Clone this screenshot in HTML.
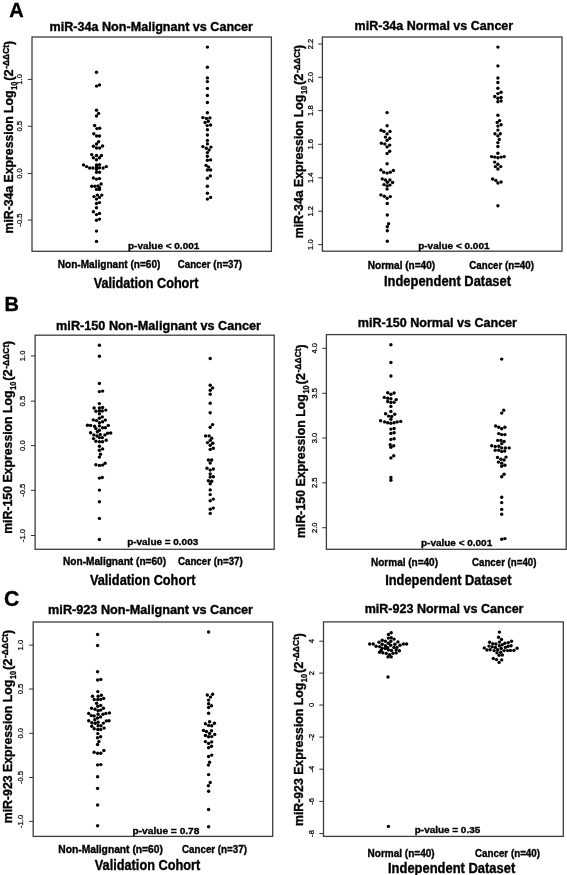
<!DOCTYPE html><html><head><meta charset="utf-8"><style>html,body{margin:0;padding:0;background:#fff;width:567px;height:875px;overflow:hidden}svg{display:block;will-change:transform}text{font-family:"Liberation Sans",sans-serif;fill:#000}text[font-weight=bold]{stroke:#000;stroke-width:0.35px}</style></head><body>
<svg width="567" height="875" viewBox="0 0 567 875">
<text x="9.3" y="16.9" font-size="20" font-weight="bold" stroke="#000" stroke-width="0.6">A</text>
<text x="4.6" y="310.8" font-size="20" font-weight="bold" stroke="#000" stroke-width="0.6">B</text>
<text x="3.9" y="605.6" font-size="21.2" font-weight="bold" stroke="#000" stroke-width="0.6">C</text>
<rect x="32.0" y="37.0" width="239.4" height="214.3" fill="none" stroke="#3c3c3c" stroke-width="1.3"/>
<line x1="27.8" y1="79.4" x2="32.0" y2="79.4" stroke="#333" stroke-width="1.0"/>
<text transform="translate(22.2,79.4) rotate(-90)" font-size="7.6" text-anchor="middle" stroke="#000" stroke-width="0.25">1.0</text>
<line x1="27.8" y1="126.3" x2="32.0" y2="126.3" stroke="#333" stroke-width="1.0"/>
<text transform="translate(22.2,126.3) rotate(-90)" font-size="7.6" text-anchor="middle" stroke="#000" stroke-width="0.25">0.5</text>
<line x1="27.8" y1="173.5" x2="32.0" y2="173.5" stroke="#333" stroke-width="1.0"/>
<text transform="translate(22.2,173.5) rotate(-90)" font-size="7.6" text-anchor="middle" stroke="#000" stroke-width="0.25">0.0</text>
<line x1="27.8" y1="220.1" x2="32.0" y2="220.1" stroke="#333" stroke-width="1.0"/>
<text transform="translate(22.2,220.1) rotate(-90)" font-size="7.6" text-anchor="middle" stroke="#000" stroke-width="0.25">-0.5</text>
<text x="49.6" y="30.5" font-size="12" font-weight="bold" textLength="203.4" lengthAdjust="spacingAndGlyphs">miR-34a Non-Malignant vs Cancer</text>
<text x="57.8" y="268.1" font-size="10" font-weight="bold" textLength="102.6" lengthAdjust="spacingAndGlyphs">Non-Malignant (n=60)</text>
<text x="177.8" y="268.1" font-size="10" font-weight="bold" textLength="64.2" lengthAdjust="spacingAndGlyphs">Cancer (n=37)</text>
<text x="93.7" y="287.9" font-size="13.9" font-weight="bold" textLength="104.8" lengthAdjust="spacingAndGlyphs">Validation Cohort</text>
<text x="128.0" y="249.4" font-size="9.6" font-weight="bold" textLength="71.3" lengthAdjust="spacingAndGlyphs">p-value &lt; 0.001</text>
<text transform="translate(12.80,233.50) rotate(-90)" font-size="12.6" font-weight="bold" textLength="143.05" lengthAdjust="spacingAndGlyphs">miR-34a Expression Log</text>
<text transform="translate(16.70,89.85) rotate(-90)" font-size="8.4" font-weight="bold" textLength="8.09" lengthAdjust="spacingAndGlyphs">10</text>
<text transform="translate(12.80,80.76) rotate(-90)" font-size="12.6" font-weight="bold" textLength="11.39" lengthAdjust="spacingAndGlyphs">(2</text>
<text transform="translate(9.10,68.87) rotate(-90)" font-size="9.8" font-weight="bold" textLength="24.07" lengthAdjust="spacingAndGlyphs">-ΔΔCt</text>
<text transform="translate(12.80,45.00) rotate(-90)" font-size="12.6" font-weight="bold" textLength="4.00" lengthAdjust="spacingAndGlyphs">)</text>
<circle cx="96.5" cy="72.3" r="1.7"/>
<circle cx="96.5" cy="86.1" r="1.7"/>
<circle cx="99.5" cy="84.9" r="1.7"/>
<circle cx="96.5" cy="110.3" r="1.7"/>
<circle cx="98.6" cy="113.4" r="1.7"/>
<circle cx="96.5" cy="116.0" r="1.7"/>
<circle cx="94.6" cy="125.5" r="1.7"/>
<circle cx="96.9" cy="128.6" r="1.7"/>
<circle cx="99.7" cy="128.2" r="1.7"/>
<circle cx="93.8" cy="133.7" r="1.7"/>
<circle cx="96.6" cy="136.0" r="1.7"/>
<circle cx="99.5" cy="136.0" r="1.7"/>
<circle cx="98.6" cy="141.7" r="1.7"/>
<circle cx="96.5" cy="144.0" r="1.7"/>
<circle cx="93.4" cy="146.3" r="1.7"/>
<circle cx="96.5" cy="148.0" r="1.7"/>
<circle cx="99.7" cy="148.0" r="1.7"/>
<circle cx="102.6" cy="146.0" r="1.7"/>
<circle cx="91.7" cy="154.6" r="1.7"/>
<circle cx="96.5" cy="155.5" r="1.7"/>
<circle cx="101.4" cy="155.5" r="1.7"/>
<circle cx="93.4" cy="157.8" r="1.7"/>
<circle cx="99.5" cy="157.8" r="1.7"/>
<circle cx="96.5" cy="159.7" r="1.7"/>
<circle cx="83.5" cy="164.9" r="1.7"/>
<circle cx="86.6" cy="166.6" r="1.7"/>
<circle cx="89.7" cy="168.0" r="1.7"/>
<circle cx="92.9" cy="168.0" r="1.7"/>
<circle cx="96.5" cy="164.9" r="1.7"/>
<circle cx="99.5" cy="164.6" r="1.7"/>
<circle cx="96.5" cy="167.1" r="1.7"/>
<circle cx="99.5" cy="167.7" r="1.7"/>
<circle cx="103.1" cy="168.0" r="1.7"/>
<circle cx="106.3" cy="166.6" r="1.7"/>
<circle cx="96.5" cy="169.2" r="1.7"/>
<circle cx="96.5" cy="172.3" r="1.7"/>
<circle cx="99.5" cy="172.3" r="1.7"/>
<circle cx="93.4" cy="178.0" r="1.7"/>
<circle cx="96.5" cy="179.1" r="1.7"/>
<circle cx="99.5" cy="178.6" r="1.7"/>
<circle cx="91.7" cy="186.3" r="1.7"/>
<circle cx="94.9" cy="186.3" r="1.7"/>
<circle cx="98.0" cy="186.0" r="1.7"/>
<circle cx="101.1" cy="184.0" r="1.7"/>
<circle cx="99.5" cy="187.7" r="1.7"/>
<circle cx="96.5" cy="189.4" r="1.7"/>
<circle cx="99.5" cy="189.4" r="1.7"/>
<circle cx="94.0" cy="196.6" r="1.7"/>
<circle cx="97.4" cy="195.1" r="1.7"/>
<circle cx="101.8" cy="195.1" r="1.7"/>
<circle cx="96.5" cy="199.1" r="1.7"/>
<circle cx="99.5" cy="197.4" r="1.7"/>
<circle cx="96.5" cy="203.5" r="1.7"/>
<circle cx="99.5" cy="202.6" r="1.7"/>
<circle cx="96.5" cy="207.7" r="1.7"/>
<circle cx="93.4" cy="211.7" r="1.7"/>
<circle cx="96.5" cy="214.6" r="1.7"/>
<circle cx="99.5" cy="213.4" r="1.7"/>
<circle cx="96.5" cy="220.3" r="1.7"/>
<circle cx="99.5" cy="219.1" r="1.7"/>
<circle cx="96.5" cy="231.1" r="1.7"/>
<circle cx="96.5" cy="241.4" r="1.7"/>
<circle cx="207.4" cy="47.1" r="1.7"/>
<circle cx="207.4" cy="67.3" r="1.7"/>
<circle cx="207.4" cy="77.9" r="1.7"/>
<circle cx="207.4" cy="81.6" r="1.7"/>
<circle cx="207.4" cy="88.4" r="1.7"/>
<circle cx="207.4" cy="95.5" r="1.7"/>
<circle cx="207.4" cy="102.5" r="1.7"/>
<circle cx="207.4" cy="112.7" r="1.7"/>
<circle cx="202.9" cy="117.6" r="1.7"/>
<circle cx="206.5" cy="118.4" r="1.7"/>
<circle cx="209.9" cy="117.9" r="1.7"/>
<circle cx="205.1" cy="122.5" r="1.7"/>
<circle cx="208.3" cy="121.3" r="1.7"/>
<circle cx="207.2" cy="125.6" r="1.7"/>
<circle cx="210.6" cy="125.0" r="1.7"/>
<circle cx="207.4" cy="129.8" r="1.7"/>
<circle cx="207.4" cy="135.0" r="1.7"/>
<circle cx="207.4" cy="140.5" r="1.7"/>
<circle cx="207.4" cy="143.9" r="1.7"/>
<circle cx="202.9" cy="146.6" r="1.7"/>
<circle cx="210.9" cy="147.1" r="1.7"/>
<circle cx="206.3" cy="148.3" r="1.7"/>
<circle cx="209.1" cy="150.0" r="1.7"/>
<circle cx="207.4" cy="152.6" r="1.7"/>
<circle cx="207.4" cy="156.3" r="1.7"/>
<circle cx="207.4" cy="160.3" r="1.7"/>
<circle cx="210.6" cy="159.9" r="1.7"/>
<circle cx="206.1" cy="165.4" r="1.7"/>
<circle cx="208.6" cy="167.1" r="1.7"/>
<circle cx="207.4" cy="170.0" r="1.7"/>
<circle cx="210.6" cy="170.0" r="1.7"/>
<circle cx="210.3" cy="175.9" r="1.7"/>
<circle cx="207.4" cy="178.2" r="1.7"/>
<circle cx="207.4" cy="186.3" r="1.7"/>
<circle cx="207.4" cy="193.2" r="1.7"/>
<circle cx="210.6" cy="197.4" r="1.7"/>
<circle cx="207.4" cy="199.1" r="1.7"/>
<rect x="322.4" y="37.0" width="239.6" height="214.2" fill="none" stroke="#3c3c3c" stroke-width="1.3"/>
<line x1="318.2" y1="44.0" x2="322.4" y2="44.0" stroke="#333" stroke-width="1.0"/>
<text transform="translate(312.6,44.0) rotate(-90)" font-size="7.6" text-anchor="middle" stroke="#000" stroke-width="0.25">2.2</text>
<line x1="318.2" y1="77.3" x2="322.4" y2="77.3" stroke="#333" stroke-width="1.0"/>
<text transform="translate(312.6,77.3) rotate(-90)" font-size="7.6" text-anchor="middle" stroke="#000" stroke-width="0.25">2.0</text>
<line x1="318.2" y1="110.6" x2="322.4" y2="110.6" stroke="#333" stroke-width="1.0"/>
<text transform="translate(312.6,110.6) rotate(-90)" font-size="7.6" text-anchor="middle" stroke="#000" stroke-width="0.25">1.8</text>
<line x1="318.2" y1="144.3" x2="322.4" y2="144.3" stroke="#333" stroke-width="1.0"/>
<text transform="translate(312.6,144.3) rotate(-90)" font-size="7.6" text-anchor="middle" stroke="#000" stroke-width="0.25">1.6</text>
<line x1="318.2" y1="177.8" x2="322.4" y2="177.8" stroke="#333" stroke-width="1.0"/>
<text transform="translate(312.6,177.8) rotate(-90)" font-size="7.6" text-anchor="middle" stroke="#000" stroke-width="0.25">1.4</text>
<line x1="318.2" y1="211.2" x2="322.4" y2="211.2" stroke="#333" stroke-width="1.0"/>
<text transform="translate(312.6,211.2) rotate(-90)" font-size="7.6" text-anchor="middle" stroke="#000" stroke-width="0.25">1.2</text>
<line x1="318.2" y1="244.6" x2="322.4" y2="244.6" stroke="#333" stroke-width="1.0"/>
<text transform="translate(312.6,244.6) rotate(-90)" font-size="7.6" text-anchor="middle" stroke="#000" stroke-width="0.25">1.0</text>
<text x="354.6" y="30.4" font-size="12" font-weight="bold" textLength="158.6" lengthAdjust="spacingAndGlyphs">miR-34a Normal vs Cancer</text>
<text x="367.8" y="269.1" font-size="10" font-weight="bold" textLength="67.3" lengthAdjust="spacingAndGlyphs">Normal (n=40)</text>
<text x="469.3" y="269.1" font-size="10" font-weight="bold" textLength="64.6" lengthAdjust="spacingAndGlyphs">Cancer (n=40)</text>
<text x="384.0" y="285.9" font-size="13.9" font-weight="bold" textLength="127.0" lengthAdjust="spacingAndGlyphs">Independent Dataset</text>
<text x="418.2" y="249.3" font-size="9.6" font-weight="bold" textLength="71.3" lengthAdjust="spacingAndGlyphs">p-value &lt; 0.001</text>
<text transform="translate(303.30,238.30) rotate(-90)" font-size="12.6" font-weight="bold" textLength="143.65" lengthAdjust="spacingAndGlyphs">miR-34a Expression Log</text>
<text transform="translate(307.20,94.05) rotate(-90)" font-size="8.4" font-weight="bold" textLength="8.13" lengthAdjust="spacingAndGlyphs">10</text>
<text transform="translate(303.30,84.92) rotate(-90)" font-size="12.6" font-weight="bold" textLength="11.44" lengthAdjust="spacingAndGlyphs">(2</text>
<text transform="translate(299.60,72.98) rotate(-90)" font-size="9.8" font-weight="bold" textLength="24.18" lengthAdjust="spacingAndGlyphs">-ΔΔCt</text>
<text transform="translate(303.30,49.01) rotate(-90)" font-size="12.6" font-weight="bold" textLength="4.01" lengthAdjust="spacingAndGlyphs">)</text>
<circle cx="387.1" cy="112.6" r="1.7"/>
<circle cx="387.1" cy="125.7" r="1.7"/>
<circle cx="381.1" cy="130.3" r="1.7"/>
<circle cx="384.0" cy="131.4" r="1.7"/>
<circle cx="390.0" cy="131.4" r="1.7"/>
<circle cx="387.1" cy="133.9" r="1.7"/>
<circle cx="385.4" cy="137.1" r="1.7"/>
<circle cx="389.7" cy="138.3" r="1.7"/>
<circle cx="387.1" cy="140.2" r="1.7"/>
<circle cx="381.4" cy="143.2" r="1.7"/>
<circle cx="384.8" cy="144.0" r="1.7"/>
<circle cx="389.7" cy="145.1" r="1.7"/>
<circle cx="387.1" cy="146.9" r="1.7"/>
<circle cx="389.7" cy="151.2" r="1.7"/>
<circle cx="387.1" cy="153.5" r="1.7"/>
<circle cx="387.1" cy="163.8" r="1.7"/>
<circle cx="380.9" cy="169.9" r="1.7"/>
<circle cx="383.7" cy="172.3" r="1.7"/>
<circle cx="387.1" cy="173.1" r="1.7"/>
<circle cx="390.3" cy="172.3" r="1.7"/>
<circle cx="393.4" cy="170.5" r="1.7"/>
<circle cx="382.3" cy="178.9" r="1.7"/>
<circle cx="385.4" cy="180.0" r="1.7"/>
<circle cx="389.9" cy="180.0" r="1.7"/>
<circle cx="387.4" cy="182.3" r="1.7"/>
<circle cx="392.6" cy="182.5" r="1.7"/>
<circle cx="384.0" cy="184.6" r="1.7"/>
<circle cx="389.9" cy="185.1" r="1.7"/>
<circle cx="387.1" cy="186.0" r="1.7"/>
<circle cx="387.1" cy="189.1" r="1.7"/>
<circle cx="380.9" cy="194.9" r="1.7"/>
<circle cx="384.3" cy="196.2" r="1.7"/>
<circle cx="390.3" cy="196.6" r="1.7"/>
<circle cx="387.1" cy="198.3" r="1.7"/>
<circle cx="387.3" cy="203.5" r="1.7"/>
<circle cx="387.3" cy="215.0" r="1.7"/>
<circle cx="388.6" cy="223.7" r="1.7"/>
<circle cx="387.3" cy="226.8" r="1.7"/>
<circle cx="387.3" cy="230.7" r="1.7"/>
<circle cx="387.3" cy="241.3" r="1.7"/>
<circle cx="497.9" cy="47.1" r="1.7"/>
<circle cx="497.9" cy="65.9" r="1.7"/>
<circle cx="497.9" cy="78.0" r="1.7"/>
<circle cx="497.9" cy="82.5" r="1.7"/>
<circle cx="497.9" cy="88.3" r="1.7"/>
<circle cx="497.9" cy="93.6" r="1.7"/>
<circle cx="501.1" cy="92.2" r="1.7"/>
<circle cx="494.7" cy="96.5" r="1.7"/>
<circle cx="497.9" cy="98.2" r="1.7"/>
<circle cx="501.1" cy="97.5" r="1.7"/>
<circle cx="497.9" cy="101.8" r="1.7"/>
<circle cx="501.1" cy="101.0" r="1.7"/>
<circle cx="497.9" cy="115.3" r="1.7"/>
<circle cx="499.6" cy="120.6" r="1.7"/>
<circle cx="497.2" cy="122.5" r="1.7"/>
<circle cx="501.1" cy="124.8" r="1.7"/>
<circle cx="497.9" cy="126.1" r="1.7"/>
<circle cx="497.9" cy="130.1" r="1.7"/>
<circle cx="495.0" cy="133.8" r="1.7"/>
<circle cx="500.3" cy="133.8" r="1.7"/>
<circle cx="497.9" cy="135.9" r="1.7"/>
<circle cx="499.3" cy="139.4" r="1.7"/>
<circle cx="497.9" cy="142.6" r="1.7"/>
<circle cx="497.9" cy="146.5" r="1.7"/>
<circle cx="497.9" cy="153.2" r="1.7"/>
<circle cx="491.6" cy="156.6" r="1.7"/>
<circle cx="494.7" cy="157.1" r="1.7"/>
<circle cx="497.9" cy="157.8" r="1.7"/>
<circle cx="501.1" cy="157.1" r="1.7"/>
<circle cx="504.2" cy="156.6" r="1.7"/>
<circle cx="494.7" cy="162.1" r="1.7"/>
<circle cx="497.9" cy="164.2" r="1.7"/>
<circle cx="495.4" cy="166.6" r="1.7"/>
<circle cx="500.7" cy="166.6" r="1.7"/>
<circle cx="497.9" cy="169.0" r="1.7"/>
<circle cx="492.6" cy="179.0" r="1.7"/>
<circle cx="495.8" cy="180.4" r="1.7"/>
<circle cx="501.1" cy="182.0" r="1.7"/>
<circle cx="497.9" cy="183.0" r="1.7"/>
<circle cx="497.9" cy="205.7" r="1.7"/>
<rect x="35.1" y="335.2" width="239.1" height="214.1" fill="none" stroke="#3c3c3c" stroke-width="1.3"/>
<line x1="30.9" y1="355.9" x2="35.1" y2="355.9" stroke="#333" stroke-width="1.0"/>
<text transform="translate(25.3,355.9) rotate(-90)" font-size="7.6" text-anchor="middle" stroke="#000" stroke-width="0.25">1.0</text>
<line x1="30.9" y1="401.1" x2="35.1" y2="401.1" stroke="#333" stroke-width="1.0"/>
<text transform="translate(25.3,401.1) rotate(-90)" font-size="7.6" text-anchor="middle" stroke="#000" stroke-width="0.25">0.5</text>
<line x1="30.9" y1="445.6" x2="35.1" y2="445.6" stroke="#333" stroke-width="1.0"/>
<text transform="translate(25.3,445.6) rotate(-90)" font-size="7.6" text-anchor="middle" stroke="#000" stroke-width="0.25">0.0</text>
<line x1="30.9" y1="490.3" x2="35.1" y2="490.3" stroke="#333" stroke-width="1.0"/>
<text transform="translate(25.3,490.3) rotate(-90)" font-size="7.6" text-anchor="middle" stroke="#000" stroke-width="0.25">-0.5</text>
<line x1="30.9" y1="535.5" x2="35.1" y2="535.5" stroke="#333" stroke-width="1.0"/>
<text transform="translate(25.3,535.5) rotate(-90)" font-size="7.6" text-anchor="middle" stroke="#000" stroke-width="0.25">-1.0</text>
<text x="56.1" y="329.9" font-size="12" font-weight="bold" textLength="204.9" lengthAdjust="spacingAndGlyphs">miR-150 Non-Malignant vs Cancer</text>
<text x="63.0" y="564.7" font-size="10" font-weight="bold" textLength="103.1" lengthAdjust="spacingAndGlyphs">Non-Malignant (n=60)</text>
<text x="177.9" y="564.7" font-size="10" font-weight="bold" textLength="64.9" lengthAdjust="spacingAndGlyphs">Cancer (n=37)</text>
<text x="89.9" y="585.0" font-size="13.9" font-weight="bold" textLength="105.5" lengthAdjust="spacingAndGlyphs">Validation Cohort</text>
<text x="127.2" y="545.2" font-size="9.6" font-weight="bold" textLength="71.0" lengthAdjust="spacingAndGlyphs">p-value = 0.003</text>
<text transform="translate(12.30,533.80) rotate(-90)" font-size="12.6" font-weight="bold" textLength="143.35" lengthAdjust="spacingAndGlyphs">miR-150 Expression Log</text>
<text transform="translate(16.20,389.85) rotate(-90)" font-size="8.4" font-weight="bold" textLength="8.11" lengthAdjust="spacingAndGlyphs">10</text>
<text transform="translate(12.30,380.74) rotate(-90)" font-size="12.6" font-weight="bold" textLength="11.41" lengthAdjust="spacingAndGlyphs">(2</text>
<text transform="translate(8.60,368.83) rotate(-90)" font-size="9.8" font-weight="bold" textLength="24.13" lengthAdjust="spacingAndGlyphs">-ΔΔCt</text>
<text transform="translate(12.30,344.90) rotate(-90)" font-size="12.6" font-weight="bold" textLength="4.00" lengthAdjust="spacingAndGlyphs">)</text>
<circle cx="99.4" cy="345.3" r="1.7"/>
<circle cx="99.4" cy="356.2" r="1.7"/>
<circle cx="99.4" cy="383.4" r="1.7"/>
<circle cx="99.4" cy="391.6" r="1.7"/>
<circle cx="102.6" cy="391.1" r="1.7"/>
<circle cx="99.4" cy="403.6" r="1.7"/>
<circle cx="94.1" cy="408.0" r="1.7"/>
<circle cx="99.4" cy="408.0" r="1.7"/>
<circle cx="102.6" cy="407.5" r="1.7"/>
<circle cx="95.9" cy="411.2" r="1.7"/>
<circle cx="99.4" cy="410.7" r="1.7"/>
<circle cx="102.3" cy="411.0" r="1.7"/>
<circle cx="105.8" cy="410.1" r="1.7"/>
<circle cx="99.4" cy="413.8" r="1.7"/>
<circle cx="102.3" cy="416.9" r="1.7"/>
<circle cx="99.4" cy="418.2" r="1.7"/>
<circle cx="93.3" cy="419.9" r="1.7"/>
<circle cx="96.5" cy="420.6" r="1.7"/>
<circle cx="102.6" cy="421.7" r="1.7"/>
<circle cx="105.4" cy="420.1" r="1.7"/>
<circle cx="99.4" cy="422.8" r="1.7"/>
<circle cx="87.5" cy="425.2" r="1.7"/>
<circle cx="90.6" cy="425.4" r="1.7"/>
<circle cx="94.6" cy="426.2" r="1.7"/>
<circle cx="99.4" cy="425.9" r="1.7"/>
<circle cx="102.6" cy="427.7" r="1.7"/>
<circle cx="105.4" cy="427.7" r="1.7"/>
<circle cx="108.3" cy="425.4" r="1.7"/>
<circle cx="95.9" cy="428.6" r="1.7"/>
<circle cx="99.4" cy="430.2" r="1.7"/>
<circle cx="97.3" cy="431.7" r="1.7"/>
<circle cx="90.6" cy="432.8" r="1.7"/>
<circle cx="93.8" cy="434.9" r="1.7"/>
<circle cx="100.2" cy="434.4" r="1.7"/>
<circle cx="104.9" cy="434.9" r="1.7"/>
<circle cx="107.6" cy="433.3" r="1.7"/>
<circle cx="110.7" cy="433.0" r="1.7"/>
<circle cx="97.0" cy="436.0" r="1.7"/>
<circle cx="99.4" cy="437.6" r="1.7"/>
<circle cx="102.3" cy="437.6" r="1.7"/>
<circle cx="93.5" cy="438.6" r="1.7"/>
<circle cx="95.9" cy="441.3" r="1.7"/>
<circle cx="99.4" cy="441.8" r="1.7"/>
<circle cx="102.6" cy="441.8" r="1.7"/>
<circle cx="106.2" cy="440.2" r="1.7"/>
<circle cx="99.4" cy="446.2" r="1.7"/>
<circle cx="102.6" cy="448.9" r="1.7"/>
<circle cx="99.4" cy="450.3" r="1.7"/>
<circle cx="100.5" cy="454.2" r="1.7"/>
<circle cx="99.4" cy="457.1" r="1.7"/>
<circle cx="95.9" cy="464.8" r="1.7"/>
<circle cx="99.4" cy="465.4" r="1.7"/>
<circle cx="102.6" cy="465.1" r="1.7"/>
<circle cx="105.1" cy="463.2" r="1.7"/>
<circle cx="99.4" cy="478.1" r="1.7"/>
<circle cx="102.3" cy="477.5" r="1.7"/>
<circle cx="99.4" cy="490.1" r="1.7"/>
<circle cx="99.4" cy="501.7" r="1.7"/>
<circle cx="99.4" cy="518.4" r="1.7"/>
<circle cx="99.4" cy="539.5" r="1.7"/>
<circle cx="210.2" cy="358.5" r="1.7"/>
<circle cx="210.2" cy="385.3" r="1.7"/>
<circle cx="212.6" cy="387.9" r="1.7"/>
<circle cx="210.2" cy="390.2" r="1.7"/>
<circle cx="210.2" cy="394.3" r="1.7"/>
<circle cx="210.2" cy="403.3" r="1.7"/>
<circle cx="210.2" cy="412.8" r="1.7"/>
<circle cx="212.6" cy="424.6" r="1.7"/>
<circle cx="210.2" cy="427.2" r="1.7"/>
<circle cx="205.6" cy="435.9" r="1.7"/>
<circle cx="209.1" cy="435.9" r="1.7"/>
<circle cx="211.7" cy="438.3" r="1.7"/>
<circle cx="210.2" cy="440.4" r="1.7"/>
<circle cx="207.5" cy="442.6" r="1.7"/>
<circle cx="212.8" cy="443.3" r="1.7"/>
<circle cx="210.2" cy="445.2" r="1.7"/>
<circle cx="213.3" cy="448.2" r="1.7"/>
<circle cx="210.2" cy="449.4" r="1.7"/>
<circle cx="208.4" cy="460.0" r="1.7"/>
<circle cx="211.7" cy="460.0" r="1.7"/>
<circle cx="210.2" cy="463.0" r="1.7"/>
<circle cx="207.0" cy="468.3" r="1.7"/>
<circle cx="210.2" cy="470.1" r="1.7"/>
<circle cx="213.3" cy="469.0" r="1.7"/>
<circle cx="210.2" cy="474.0" r="1.7"/>
<circle cx="210.2" cy="477.0" r="1.7"/>
<circle cx="213.3" cy="476.7" r="1.7"/>
<circle cx="208.4" cy="480.7" r="1.7"/>
<circle cx="211.7" cy="481.2" r="1.7"/>
<circle cx="210.2" cy="483.8" r="1.7"/>
<circle cx="210.2" cy="489.9" r="1.7"/>
<circle cx="210.2" cy="494.6" r="1.7"/>
<circle cx="213.3" cy="499.1" r="1.7"/>
<circle cx="210.2" cy="500.7" r="1.7"/>
<circle cx="213.3" cy="508.1" r="1.7"/>
<circle cx="210.2" cy="509.2" r="1.7"/>
<circle cx="210.2" cy="513.4" r="1.7"/>
<rect x="326.4" y="334.6" width="239.8" height="214.7" fill="none" stroke="#3c3c3c" stroke-width="1.3"/>
<line x1="322.2" y1="348.3" x2="326.4" y2="348.3" stroke="#333" stroke-width="1.0"/>
<text transform="translate(316.6,348.3) rotate(-90)" font-size="7.6" text-anchor="middle" stroke="#000" stroke-width="0.25">4.0</text>
<line x1="322.2" y1="393.3" x2="326.4" y2="393.3" stroke="#333" stroke-width="1.0"/>
<text transform="translate(316.6,393.3) rotate(-90)" font-size="7.6" text-anchor="middle" stroke="#000" stroke-width="0.25">3.5</text>
<line x1="322.2" y1="438.0" x2="326.4" y2="438.0" stroke="#333" stroke-width="1.0"/>
<text transform="translate(316.6,438.0) rotate(-90)" font-size="7.6" text-anchor="middle" stroke="#000" stroke-width="0.25">3.0</text>
<line x1="322.2" y1="482.8" x2="326.4" y2="482.8" stroke="#333" stroke-width="1.0"/>
<text transform="translate(316.6,482.8) rotate(-90)" font-size="7.6" text-anchor="middle" stroke="#000" stroke-width="0.25">2.5</text>
<line x1="322.2" y1="527.7" x2="326.4" y2="527.7" stroke="#333" stroke-width="1.0"/>
<text transform="translate(316.6,527.7) rotate(-90)" font-size="7.6" text-anchor="middle" stroke="#000" stroke-width="0.25">2.0</text>
<text x="357.8" y="326.7" font-size="12" font-weight="bold" textLength="159.2" lengthAdjust="spacingAndGlyphs">miR-150 Normal vs Cancer</text>
<text x="371.0" y="565.8" font-size="10" font-weight="bold" textLength="67.0" lengthAdjust="spacingAndGlyphs">Normal (n=40)</text>
<text x="472.0" y="565.8" font-size="10" font-weight="bold" textLength="64.5" lengthAdjust="spacingAndGlyphs">Cancer (n=40)</text>
<text x="385.2" y="585.1" font-size="13.9" font-weight="bold" textLength="126.3" lengthAdjust="spacingAndGlyphs">Independent Dataset</text>
<text x="421.0" y="546.0" font-size="9.6" font-weight="bold" textLength="71.2" lengthAdjust="spacingAndGlyphs">p-value &lt; 0.001</text>
<text transform="translate(304.60,537.90) rotate(-90)" font-size="12.6" font-weight="bold" textLength="143.72" lengthAdjust="spacingAndGlyphs">miR-150 Expression Log</text>
<text transform="translate(308.50,393.58) rotate(-90)" font-size="8.4" font-weight="bold" textLength="8.13" lengthAdjust="spacingAndGlyphs">10</text>
<text transform="translate(304.60,384.44) rotate(-90)" font-size="12.6" font-weight="bold" textLength="11.44" lengthAdjust="spacingAndGlyphs">(2</text>
<text transform="translate(300.90,372.50) rotate(-90)" font-size="9.8" font-weight="bold" textLength="24.19" lengthAdjust="spacingAndGlyphs">-ΔΔCt</text>
<text transform="translate(304.60,348.51) rotate(-90)" font-size="12.6" font-weight="bold" textLength="4.01" lengthAdjust="spacingAndGlyphs">)</text>
<circle cx="390.9" cy="344.7" r="1.7"/>
<circle cx="390.9" cy="362.5" r="1.7"/>
<circle cx="390.9" cy="376.0" r="1.7"/>
<circle cx="387.7" cy="392.7" r="1.7"/>
<circle cx="390.9" cy="394.3" r="1.7"/>
<circle cx="394.1" cy="393.0" r="1.7"/>
<circle cx="384.3" cy="397.4" r="1.7"/>
<circle cx="387.7" cy="398.3" r="1.7"/>
<circle cx="390.9" cy="398.7" r="1.7"/>
<circle cx="396.2" cy="399.6" r="1.7"/>
<circle cx="387.7" cy="401.5" r="1.7"/>
<circle cx="390.9" cy="402.5" r="1.7"/>
<circle cx="394.1" cy="402.2" r="1.7"/>
<circle cx="390.9" cy="406.4" r="1.7"/>
<circle cx="390.9" cy="411.4" r="1.7"/>
<circle cx="385.6" cy="413.8" r="1.7"/>
<circle cx="394.7" cy="414.2" r="1.7"/>
<circle cx="388.6" cy="416.1" r="1.7"/>
<circle cx="391.7" cy="416.4" r="1.7"/>
<circle cx="390.9" cy="419.3" r="1.7"/>
<circle cx="380.6" cy="420.7" r="1.7"/>
<circle cx="384.6" cy="421.9" r="1.7"/>
<circle cx="387.7" cy="422.8" r="1.7"/>
<circle cx="390.9" cy="423.2" r="1.7"/>
<circle cx="394.1" cy="422.8" r="1.7"/>
<circle cx="397.2" cy="421.9" r="1.7"/>
<circle cx="400.7" cy="421.4" r="1.7"/>
<circle cx="390.9" cy="429.1" r="1.7"/>
<circle cx="394.1" cy="428.5" r="1.7"/>
<circle cx="390.9" cy="433.4" r="1.7"/>
<circle cx="394.1" cy="432.7" r="1.7"/>
<circle cx="390.9" cy="439.4" r="1.7"/>
<circle cx="394.1" cy="438.7" r="1.7"/>
<circle cx="390.2" cy="444.7" r="1.7"/>
<circle cx="393.7" cy="445.7" r="1.7"/>
<circle cx="390.9" cy="447.3" r="1.7"/>
<circle cx="390.9" cy="457.9" r="1.7"/>
<circle cx="393.7" cy="455.8" r="1.7"/>
<circle cx="390.9" cy="477.5" r="1.7"/>
<circle cx="390.9" cy="480.3" r="1.7"/>
<circle cx="501.7" cy="359.1" r="1.7"/>
<circle cx="503.7" cy="410.3" r="1.7"/>
<circle cx="501.7" cy="413.1" r="1.7"/>
<circle cx="495.6" cy="426.0" r="1.7"/>
<circle cx="498.8" cy="427.2" r="1.7"/>
<circle cx="501.7" cy="428.8" r="1.7"/>
<circle cx="504.9" cy="427.2" r="1.7"/>
<circle cx="498.8" cy="433.6" r="1.7"/>
<circle cx="501.7" cy="434.6" r="1.7"/>
<circle cx="504.9" cy="434.6" r="1.7"/>
<circle cx="497.7" cy="440.4" r="1.7"/>
<circle cx="500.9" cy="440.4" r="1.7"/>
<circle cx="504.1" cy="441.5" r="1.7"/>
<circle cx="501.7" cy="443.6" r="1.7"/>
<circle cx="491.7" cy="445.7" r="1.7"/>
<circle cx="495.2" cy="446.5" r="1.7"/>
<circle cx="498.8" cy="446.3" r="1.7"/>
<circle cx="501.7" cy="447.9" r="1.7"/>
<circle cx="505.4" cy="447.9" r="1.7"/>
<circle cx="509.2" cy="447.9" r="1.7"/>
<circle cx="495.2" cy="450.3" r="1.7"/>
<circle cx="498.8" cy="450.3" r="1.7"/>
<circle cx="501.7" cy="451.6" r="1.7"/>
<circle cx="504.7" cy="451.0" r="1.7"/>
<circle cx="497.5" cy="457.4" r="1.7"/>
<circle cx="506.0" cy="457.1" r="1.7"/>
<circle cx="500.9" cy="459.2" r="1.7"/>
<circle cx="504.1" cy="460.0" r="1.7"/>
<circle cx="498.4" cy="462.1" r="1.7"/>
<circle cx="501.7" cy="463.2" r="1.7"/>
<circle cx="501.7" cy="466.2" r="1.7"/>
<circle cx="504.9" cy="465.3" r="1.7"/>
<circle cx="504.1" cy="474.3" r="1.7"/>
<circle cx="501.7" cy="476.7" r="1.7"/>
<circle cx="501.7" cy="497.3" r="1.7"/>
<circle cx="501.7" cy="502.6" r="1.7"/>
<circle cx="501.7" cy="509.4" r="1.7"/>
<circle cx="501.7" cy="514.2" r="1.7"/>
<circle cx="501.7" cy="539.3" r="1.7"/>
<circle cx="504.9" cy="538.6" r="1.7"/>
<rect x="33.2" y="622.0" width="239.5" height="214.4" fill="none" stroke="#3c3c3c" stroke-width="1.3"/>
<line x1="29.1" y1="645.1" x2="33.2" y2="645.1" stroke="#333" stroke-width="1.0"/>
<text transform="translate(23.4,645.1) rotate(-90)" font-size="7.6" text-anchor="middle" stroke="#000" stroke-width="0.25">1.0</text>
<line x1="29.1" y1="689.0" x2="33.2" y2="689.0" stroke="#333" stroke-width="1.0"/>
<text transform="translate(23.4,689.0) rotate(-90)" font-size="7.6" text-anchor="middle" stroke="#000" stroke-width="0.25">0.5</text>
<line x1="29.1" y1="733.3" x2="33.2" y2="733.3" stroke="#333" stroke-width="1.0"/>
<text transform="translate(23.4,733.3) rotate(-90)" font-size="7.6" text-anchor="middle" stroke="#000" stroke-width="0.25">0.0</text>
<line x1="29.1" y1="777.5" x2="33.2" y2="777.5" stroke="#333" stroke-width="1.0"/>
<text transform="translate(23.4,777.5) rotate(-90)" font-size="7.6" text-anchor="middle" stroke="#000" stroke-width="0.25">-0.5</text>
<line x1="29.1" y1="821.4" x2="33.2" y2="821.4" stroke="#333" stroke-width="1.0"/>
<text transform="translate(23.4,821.4) rotate(-90)" font-size="7.6" text-anchor="middle" stroke="#000" stroke-width="0.25">-1.0</text>
<text x="48.1" y="613.8" font-size="12" font-weight="bold" textLength="204.9" lengthAdjust="spacingAndGlyphs">miR-923 Non-Malignant vs Cancer</text>
<text x="58.3" y="853.1" font-size="10" font-weight="bold" textLength="104.6" lengthAdjust="spacingAndGlyphs">Non-Malignant (n=60)</text>
<text x="182.0" y="853.1" font-size="10" font-weight="bold" textLength="64.9" lengthAdjust="spacingAndGlyphs">Cancer (n=37)</text>
<text x="94.8" y="870.4" font-size="13.9" font-weight="bold" textLength="105.4" lengthAdjust="spacingAndGlyphs">Validation Cohort</text>
<text x="132.5" y="834.3" font-size="9.6" font-weight="bold" textLength="66.9" lengthAdjust="spacingAndGlyphs">p-value = 0.78</text>
<text transform="translate(11.60,823.30) rotate(-90)" font-size="12.6" font-weight="bold" textLength="143.65" lengthAdjust="spacingAndGlyphs">miR-923 Expression Log</text>
<text transform="translate(15.50,679.05) rotate(-90)" font-size="8.4" font-weight="bold" textLength="8.13" lengthAdjust="spacingAndGlyphs">10</text>
<text transform="translate(11.60,669.92) rotate(-90)" font-size="12.6" font-weight="bold" textLength="11.44" lengthAdjust="spacingAndGlyphs">(2</text>
<text transform="translate(7.90,657.98) rotate(-90)" font-size="9.8" font-weight="bold" textLength="24.18" lengthAdjust="spacingAndGlyphs">-ΔΔCt</text>
<text transform="translate(11.60,634.01) rotate(-90)" font-size="12.6" font-weight="bold" textLength="4.01" lengthAdjust="spacingAndGlyphs">)</text>
<circle cx="97.6" cy="634.5" r="1.7"/>
<circle cx="97.6" cy="645.5" r="1.7"/>
<circle cx="97.6" cy="671.7" r="1.7"/>
<circle cx="97.6" cy="680.0" r="1.7"/>
<circle cx="100.8" cy="679.4" r="1.7"/>
<circle cx="97.8" cy="691.6" r="1.7"/>
<circle cx="92.5" cy="696.3" r="1.7"/>
<circle cx="98.1" cy="696.3" r="1.7"/>
<circle cx="101.3" cy="695.3" r="1.7"/>
<circle cx="103.7" cy="698.4" r="1.7"/>
<circle cx="94.2" cy="699.5" r="1.7"/>
<circle cx="97.8" cy="699.5" r="1.7"/>
<circle cx="100.7" cy="699.5" r="1.7"/>
<circle cx="96.6" cy="703.2" r="1.7"/>
<circle cx="97.8" cy="706.3" r="1.7"/>
<circle cx="100.7" cy="705.4" r="1.7"/>
<circle cx="91.6" cy="708.3" r="1.7"/>
<circle cx="95.1" cy="709.2" r="1.7"/>
<circle cx="98.1" cy="710.7" r="1.7"/>
<circle cx="100.7" cy="710.1" r="1.7"/>
<circle cx="103.4" cy="708.3" r="1.7"/>
<circle cx="88.7" cy="713.4" r="1.7"/>
<circle cx="91.3" cy="715.6" r="1.7"/>
<circle cx="94.2" cy="716.0" r="1.7"/>
<circle cx="98.1" cy="714.3" r="1.7"/>
<circle cx="100.6" cy="716.9" r="1.7"/>
<circle cx="103.0" cy="714.3" r="1.7"/>
<circle cx="105.9" cy="713.4" r="1.7"/>
<circle cx="109.4" cy="712.9" r="1.7"/>
<circle cx="97.5" cy="718.0" r="1.7"/>
<circle cx="94.8" cy="719.8" r="1.7"/>
<circle cx="88.7" cy="720.7" r="1.7"/>
<circle cx="91.8" cy="722.8" r="1.7"/>
<circle cx="95.1" cy="723.3" r="1.7"/>
<circle cx="98.1" cy="722.2" r="1.7"/>
<circle cx="103.4" cy="723.1" r="1.7"/>
<circle cx="106.3" cy="720.9" r="1.7"/>
<circle cx="109.0" cy="720.7" r="1.7"/>
<circle cx="98.1" cy="725.7" r="1.7"/>
<circle cx="101.0" cy="725.7" r="1.7"/>
<circle cx="91.8" cy="726.2" r="1.7"/>
<circle cx="94.2" cy="728.8" r="1.7"/>
<circle cx="97.8" cy="729.5" r="1.7"/>
<circle cx="100.7" cy="729.5" r="1.7"/>
<circle cx="104.1" cy="728.1" r="1.7"/>
<circle cx="97.8" cy="733.6" r="1.7"/>
<circle cx="100.6" cy="736.7" r="1.7"/>
<circle cx="97.5" cy="737.8" r="1.7"/>
<circle cx="98.9" cy="741.6" r="1.7"/>
<circle cx="97.6" cy="744.5" r="1.7"/>
<circle cx="94.1" cy="752.2" r="1.7"/>
<circle cx="97.6" cy="753.3" r="1.7"/>
<circle cx="100.8" cy="753.3" r="1.7"/>
<circle cx="103.9" cy="750.5" r="1.7"/>
<circle cx="97.6" cy="764.9" r="1.7"/>
<circle cx="100.8" cy="764.6" r="1.7"/>
<circle cx="97.6" cy="776.7" r="1.7"/>
<circle cx="97.6" cy="788.4" r="1.7"/>
<circle cx="97.6" cy="805.0" r="1.7"/>
<circle cx="97.6" cy="825.8" r="1.7"/>
<circle cx="208.6" cy="632.0" r="1.7"/>
<circle cx="207.3" cy="695.0" r="1.7"/>
<circle cx="212.6" cy="694.3" r="1.7"/>
<circle cx="210.5" cy="697.1" r="1.7"/>
<circle cx="208.6" cy="700.1" r="1.7"/>
<circle cx="208.6" cy="703.8" r="1.7"/>
<circle cx="211.5" cy="705.7" r="1.7"/>
<circle cx="208.6" cy="707.5" r="1.7"/>
<circle cx="208.6" cy="713.3" r="1.7"/>
<circle cx="209.6" cy="721.7" r="1.7"/>
<circle cx="205.4" cy="723.7" r="1.7"/>
<circle cx="214.4" cy="723.3" r="1.7"/>
<circle cx="208.6" cy="725.4" r="1.7"/>
<circle cx="211.7" cy="725.8" r="1.7"/>
<circle cx="203.5" cy="730.4" r="1.7"/>
<circle cx="206.5" cy="731.5" r="1.7"/>
<circle cx="211.5" cy="730.7" r="1.7"/>
<circle cx="209.6" cy="733.4" r="1.7"/>
<circle cx="214.7" cy="734.4" r="1.7"/>
<circle cx="205.4" cy="735.5" r="1.7"/>
<circle cx="208.6" cy="736.8" r="1.7"/>
<circle cx="211.7" cy="736.6" r="1.7"/>
<circle cx="205.4" cy="741.6" r="1.7"/>
<circle cx="208.6" cy="743.4" r="1.7"/>
<circle cx="211.7" cy="741.9" r="1.7"/>
<circle cx="211.5" cy="746.3" r="1.7"/>
<circle cx="208.6" cy="747.7" r="1.7"/>
<circle cx="211.7" cy="755.1" r="1.7"/>
<circle cx="208.6" cy="756.5" r="1.7"/>
<circle cx="209.6" cy="762.2" r="1.7"/>
<circle cx="208.4" cy="765.1" r="1.7"/>
<circle cx="208.6" cy="774.6" r="1.7"/>
<circle cx="210.2" cy="782.5" r="1.7"/>
<circle cx="208.4" cy="785.7" r="1.7"/>
<circle cx="208.6" cy="791.2" r="1.7"/>
<circle cx="208.6" cy="809.5" r="1.7"/>
<circle cx="208.6" cy="826.7" r="1.7"/>
<rect x="323.5" y="621.9" width="239.8" height="214.5" fill="none" stroke="#3c3c3c" stroke-width="1.3"/>
<line x1="319.3" y1="641.2" x2="323.5" y2="641.2" stroke="#333" stroke-width="1.0"/>
<text transform="translate(313.7,641.2) rotate(-90)" font-size="7.6" text-anchor="middle" stroke="#000" stroke-width="0.25">4</text>
<line x1="319.3" y1="673.1" x2="323.5" y2="673.1" stroke="#333" stroke-width="1.0"/>
<text transform="translate(313.7,673.1) rotate(-90)" font-size="7.6" text-anchor="middle" stroke="#000" stroke-width="0.25">2</text>
<line x1="319.3" y1="705.0" x2="323.5" y2="705.0" stroke="#333" stroke-width="1.0"/>
<text transform="translate(313.7,705.0) rotate(-90)" font-size="7.6" text-anchor="middle" stroke="#000" stroke-width="0.25">0</text>
<line x1="319.3" y1="737.1" x2="323.5" y2="737.1" stroke="#333" stroke-width="1.0"/>
<text transform="translate(313.7,737.1) rotate(-90)" font-size="7.6" text-anchor="middle" stroke="#000" stroke-width="0.25">-2</text>
<line x1="319.3" y1="769.2" x2="323.5" y2="769.2" stroke="#333" stroke-width="1.0"/>
<text transform="translate(313.7,769.2) rotate(-90)" font-size="7.6" text-anchor="middle" stroke="#000" stroke-width="0.25">-4</text>
<line x1="319.3" y1="801.4" x2="323.5" y2="801.4" stroke="#333" stroke-width="1.0"/>
<text transform="translate(313.7,801.4) rotate(-90)" font-size="7.6" text-anchor="middle" stroke="#000" stroke-width="0.25">-6</text>
<line x1="319.3" y1="833.5" x2="323.5" y2="833.5" stroke="#333" stroke-width="1.0"/>
<text transform="translate(313.7,833.5) rotate(-90)" font-size="7.6" text-anchor="middle" stroke="#000" stroke-width="0.25">-8</text>
<text x="364.7" y="613.3" font-size="12" font-weight="bold" textLength="158.8" lengthAdjust="spacingAndGlyphs">miR-923 Normal vs Cancer</text>
<text x="367.6" y="856.8" font-size="10" font-weight="bold" textLength="67.0" lengthAdjust="spacingAndGlyphs">Normal (n=40)</text>
<text x="475.0" y="857.1" font-size="10" font-weight="bold" textLength="65.0" lengthAdjust="spacingAndGlyphs">Cancer (n=40)</text>
<text x="388.0" y="873.2" font-size="13.9" font-weight="bold" textLength="127.2" lengthAdjust="spacingAndGlyphs">Independent Dataset</text>
<text x="414.8" y="833.3" font-size="9.6" font-weight="bold" textLength="65.4" lengthAdjust="spacingAndGlyphs">p-value = 0.35</text>
<text transform="translate(302.80,826.00) rotate(-90)" font-size="12.6" font-weight="bold" textLength="143.27" lengthAdjust="spacingAndGlyphs">miR-923 Expression Log</text>
<text transform="translate(306.70,682.13) rotate(-90)" font-size="8.4" font-weight="bold" textLength="8.10" lengthAdjust="spacingAndGlyphs">10</text>
<text transform="translate(302.80,673.02) rotate(-90)" font-size="12.6" font-weight="bold" textLength="11.41" lengthAdjust="spacingAndGlyphs">(2</text>
<text transform="translate(299.10,661.11) rotate(-90)" font-size="9.8" font-weight="bold" textLength="24.11" lengthAdjust="spacingAndGlyphs">-ΔΔCt</text>
<text transform="translate(302.80,637.20) rotate(-90)" font-size="12.6" font-weight="bold" textLength="4.00" lengthAdjust="spacingAndGlyphs">)</text>
<circle cx="391.2" cy="632.8" r="1.7"/>
<circle cx="388.4" cy="634.5" r="1.7"/>
<circle cx="388.4" cy="638.1" r="1.7"/>
<circle cx="391.2" cy="637.7" r="1.7"/>
<circle cx="394.1" cy="639.1" r="1.7"/>
<circle cx="382.2" cy="640.2" r="1.7"/>
<circle cx="385.4" cy="641.3" r="1.7"/>
<circle cx="390.9" cy="641.3" r="1.7"/>
<circle cx="397.9" cy="641.9" r="1.7"/>
<circle cx="379.0" cy="642.3" r="1.7"/>
<circle cx="388.4" cy="643.2" r="1.7"/>
<circle cx="369.7" cy="644.0" r="1.7"/>
<circle cx="373.2" cy="644.0" r="1.7"/>
<circle cx="403.4" cy="644.0" r="1.7"/>
<circle cx="406.6" cy="644.0" r="1.7"/>
<circle cx="382.2" cy="644.2" r="1.7"/>
<circle cx="394.9" cy="644.2" r="1.7"/>
<circle cx="400.0" cy="645.3" r="1.7"/>
<circle cx="376.1" cy="646.3" r="1.7"/>
<circle cx="379.6" cy="646.6" r="1.7"/>
<circle cx="385.4" cy="645.8" r="1.7"/>
<circle cx="390.7" cy="645.3" r="1.7"/>
<circle cx="393.9" cy="647.4" r="1.7"/>
<circle cx="397.0" cy="647.4" r="1.7"/>
<circle cx="382.2" cy="648.2" r="1.7"/>
<circle cx="387.7" cy="647.6" r="1.7"/>
<circle cx="385.4" cy="648.5" r="1.7"/>
<circle cx="381.0" cy="650.4" r="1.7"/>
<circle cx="388.4" cy="650.0" r="1.7"/>
<circle cx="391.5" cy="650.4" r="1.7"/>
<circle cx="396.2" cy="650.0" r="1.7"/>
<circle cx="399.4" cy="650.8" r="1.7"/>
<circle cx="379.6" cy="652.2" r="1.7"/>
<circle cx="382.8" cy="652.7" r="1.7"/>
<circle cx="386.2" cy="653.5" r="1.7"/>
<circle cx="393.0" cy="653.2" r="1.7"/>
<circle cx="396.2" cy="652.9" r="1.7"/>
<circle cx="389.6" cy="654.8" r="1.7"/>
<circle cx="388.0" cy="656.9" r="1.7"/>
<circle cx="391.2" cy="656.9" r="1.7"/>
<circle cx="388.0" cy="677.0" r="1.7"/>
<circle cx="388.4" cy="826.4" r="1.7"/>
<circle cx="499.4" cy="632.1" r="1.7"/>
<circle cx="498.6" cy="637.3" r="1.7"/>
<circle cx="501.5" cy="639.5" r="1.7"/>
<circle cx="489.6" cy="642.3" r="1.7"/>
<circle cx="492.8" cy="643.7" r="1.7"/>
<circle cx="495.9" cy="644.0" r="1.7"/>
<circle cx="499.4" cy="642.1" r="1.7"/>
<circle cx="504.9" cy="643.2" r="1.7"/>
<circle cx="508.3" cy="642.6" r="1.7"/>
<circle cx="511.5" cy="641.3" r="1.7"/>
<circle cx="489.0" cy="646.1" r="1.7"/>
<circle cx="492.2" cy="646.9" r="1.7"/>
<circle cx="495.4" cy="647.4" r="1.7"/>
<circle cx="499.4" cy="645.8" r="1.7"/>
<circle cx="502.3" cy="644.8" r="1.7"/>
<circle cx="505.4" cy="647.4" r="1.7"/>
<circle cx="508.1" cy="646.3" r="1.7"/>
<circle cx="511.1" cy="645.8" r="1.7"/>
<circle cx="484.3" cy="647.9" r="1.7"/>
<circle cx="486.9" cy="650.0" r="1.7"/>
<circle cx="490.1" cy="649.7" r="1.7"/>
<circle cx="494.1" cy="650.6" r="1.7"/>
<circle cx="497.7" cy="649.7" r="1.7"/>
<circle cx="501.2" cy="648.5" r="1.7"/>
<circle cx="504.1" cy="650.6" r="1.7"/>
<circle cx="507.6" cy="650.6" r="1.7"/>
<circle cx="510.4" cy="650.4" r="1.7"/>
<circle cx="513.9" cy="650.4" r="1.7"/>
<circle cx="517.1" cy="648.2" r="1.7"/>
<circle cx="497.0" cy="652.7" r="1.7"/>
<circle cx="500.7" cy="652.2" r="1.7"/>
<circle cx="499.1" cy="655.3" r="1.7"/>
<circle cx="502.3" cy="655.0" r="1.7"/>
<circle cx="493.3" cy="658.5" r="1.7"/>
<circle cx="496.5" cy="659.6" r="1.7"/>
<circle cx="501.7" cy="659.9" r="1.7"/>
<circle cx="499.1" cy="662.4" r="1.7"/>
</svg></body></html>
